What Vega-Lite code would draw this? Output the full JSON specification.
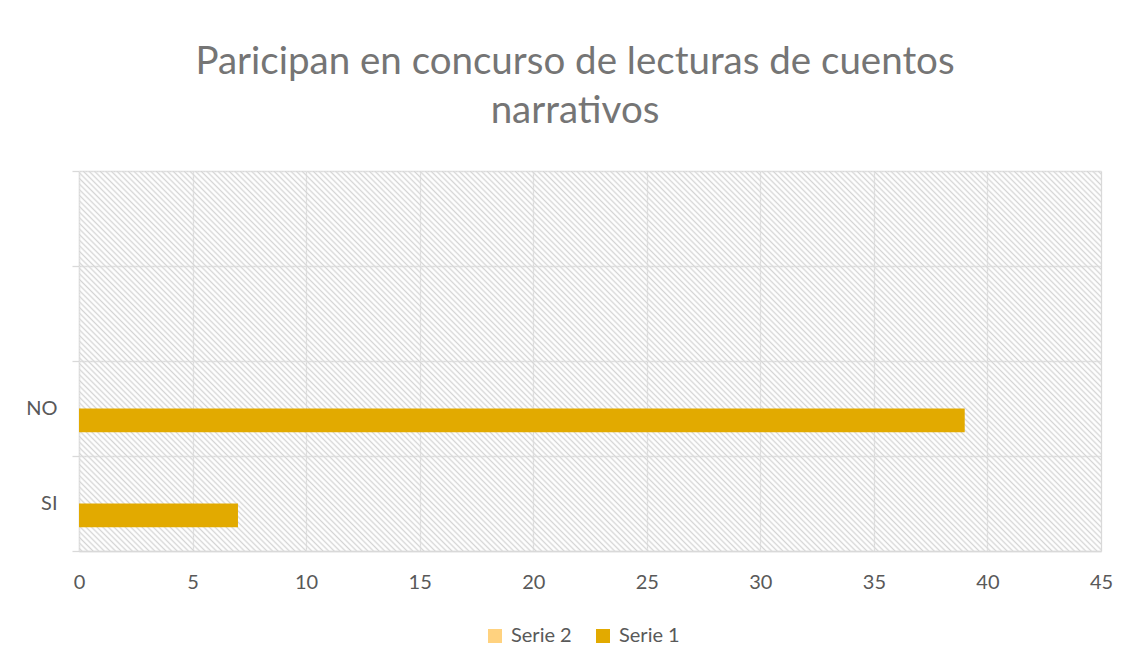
{
"$schema": "https://vega.github.io/schema/vega-lite/v6.json",
"width": 1022,
"height": 380,
"autosize": {"type": "none"},
"padding": {"left": 79, "top": 171, "right": 31, "bottom": 116},
"background": "white",
"title": {"text": ["Paricipan en concurso de lecturas de cuentos", "narrativos"], "font": "Lato", "fontSize": 38.5, "fontWeight": "normal", "color": "#757575", "lineHeight": 49, "anchor": "middle", "frame": "group", "offset": 30, "dx": -15},
"config": {"view": {"stroke": null}, "font": "Lato"},
"data": {"values": [
 {"respuesta": "SI", "serie": "Serie 1", "cantidad": 7},
 {"respuesta": "NO", "serie": "Serie 1", "cantidad": 39}
]},
"layer": [
 {
  "data": {"values": [{"desde": 0, "hasta": 45}]},
  "mark": {"type": "rect", "fill": {"gradient": "linear", "x1": 0, "y1": 1, "x2": 1.2052, "y2": 0.5519, "stops": [
{"offset":0.000,"color":"#fff0"},{"offset":0.002,"color":"#d4d4d4"},{"offset":0.004,"color":"#fff0"},{"offset":0.006,"color":"#d4d4d4"},{"offset":0.008,"color":"#fff0"},
{"offset":0.010,"color":"#d4d4d4"},{"offset":0.012,"color":"#fff0"},{"offset":0.014,"color":"#d4d4d4"},{"offset":0.016,"color":"#fff0"},{"offset":0.018,"color":"#d4d4d4"},
{"offset":0.020,"color":"#fff0"},{"offset":0.022,"color":"#d4d4d4"},{"offset":0.024,"color":"#fff0"},{"offset":0.026,"color":"#d4d4d4"},{"offset":0.028,"color":"#fff0"},
{"offset":0.030,"color":"#d4d4d4"},{"offset":0.032,"color":"#fff0"},{"offset":0.034,"color":"#d4d4d4"},{"offset":0.036,"color":"#fff0"},{"offset":0.038,"color":"#d4d4d4"},
{"offset":0.040,"color":"#fff0"},{"offset":0.042,"color":"#d4d4d4"},{"offset":0.044,"color":"#fff0"},{"offset":0.046,"color":"#d4d4d4"},{"offset":0.048,"color":"#fff0"},
{"offset":0.050,"color":"#d4d4d4"},{"offset":0.052,"color":"#fff0"},{"offset":0.054,"color":"#d4d4d4"},{"offset":0.056,"color":"#fff0"},{"offset":0.058,"color":"#d4d4d4"},
{"offset":0.060,"color":"#fff0"},{"offset":0.062,"color":"#d4d4d4"},{"offset":0.064,"color":"#fff0"},{"offset":0.066,"color":"#d4d4d4"},{"offset":0.068,"color":"#fff0"},
{"offset":0.070,"color":"#d4d4d4"},{"offset":0.072,"color":"#fff0"},{"offset":0.074,"color":"#d4d4d4"},{"offset":0.076,"color":"#fff0"},{"offset":0.078,"color":"#d4d4d4"},
{"offset":0.080,"color":"#fff0"},{"offset":0.082,"color":"#d4d4d4"},{"offset":0.084,"color":"#fff0"},{"offset":0.086,"color":"#d4d4d4"},{"offset":0.088,"color":"#fff0"},
{"offset":0.090,"color":"#d4d4d4"},{"offset":0.092,"color":"#fff0"},{"offset":0.094,"color":"#d4d4d4"},{"offset":0.096,"color":"#fff0"},{"offset":0.098,"color":"#d4d4d4"},
{"offset":0.100,"color":"#fff0"},{"offset":0.102,"color":"#d4d4d4"},{"offset":0.104,"color":"#fff0"},{"offset":0.106,"color":"#d4d4d4"},{"offset":0.108,"color":"#fff0"},
{"offset":0.110,"color":"#d4d4d4"},{"offset":0.112,"color":"#fff0"},{"offset":0.114,"color":"#d4d4d4"},{"offset":0.116,"color":"#fff0"},{"offset":0.118,"color":"#d4d4d4"},
{"offset":0.120,"color":"#fff0"},{"offset":0.122,"color":"#d4d4d4"},{"offset":0.124,"color":"#fff0"},{"offset":0.126,"color":"#d4d4d4"},{"offset":0.128,"color":"#fff0"},
{"offset":0.130,"color":"#d4d4d4"},{"offset":0.132,"color":"#fff0"},{"offset":0.134,"color":"#d4d4d4"},{"offset":0.136,"color":"#fff0"},{"offset":0.138,"color":"#d4d4d4"},
{"offset":0.140,"color":"#fff0"},{"offset":0.142,"color":"#d4d4d4"},{"offset":0.144,"color":"#fff0"},{"offset":0.146,"color":"#d4d4d4"},{"offset":0.148,"color":"#fff0"},
{"offset":0.150,"color":"#d4d4d4"},{"offset":0.152,"color":"#fff0"},{"offset":0.154,"color":"#d4d4d4"},{"offset":0.156,"color":"#fff0"},{"offset":0.158,"color":"#d4d4d4"},
{"offset":0.160,"color":"#fff0"},{"offset":0.162,"color":"#d4d4d4"},{"offset":0.164,"color":"#fff0"},{"offset":0.166,"color":"#d4d4d4"},{"offset":0.168,"color":"#fff0"},
{"offset":0.170,"color":"#d4d4d4"},{"offset":0.172,"color":"#fff0"},{"offset":0.174,"color":"#d4d4d4"},{"offset":0.176,"color":"#fff0"},{"offset":0.178,"color":"#d4d4d4"},
{"offset":0.180,"color":"#fff0"},{"offset":0.182,"color":"#d4d4d4"},{"offset":0.184,"color":"#fff0"},{"offset":0.186,"color":"#d4d4d4"},{"offset":0.188,"color":"#fff0"},
{"offset":0.190,"color":"#d4d4d4"},{"offset":0.192,"color":"#fff0"},{"offset":0.194,"color":"#d4d4d4"},{"offset":0.196,"color":"#fff0"},{"offset":0.198,"color":"#d4d4d4"},
{"offset":0.200,"color":"#fff0"},{"offset":0.202,"color":"#d4d4d4"},{"offset":0.204,"color":"#fff0"},{"offset":0.206,"color":"#d4d4d4"},{"offset":0.208,"color":"#fff0"},
{"offset":0.210,"color":"#d4d4d4"},{"offset":0.212,"color":"#fff0"},{"offset":0.214,"color":"#d4d4d4"},{"offset":0.216,"color":"#fff0"},{"offset":0.218,"color":"#d4d4d4"},
{"offset":0.220,"color":"#fff0"},{"offset":0.222,"color":"#d4d4d4"},{"offset":0.224,"color":"#fff0"},{"offset":0.226,"color":"#d4d4d4"},{"offset":0.228,"color":"#fff0"},
{"offset":0.230,"color":"#d4d4d4"},{"offset":0.232,"color":"#fff0"},{"offset":0.234,"color":"#d4d4d4"},{"offset":0.236,"color":"#fff0"},{"offset":0.238,"color":"#d4d4d4"},
{"offset":0.240,"color":"#fff0"},{"offset":0.242,"color":"#d4d4d4"},{"offset":0.244,"color":"#fff0"},{"offset":0.246,"color":"#d4d4d4"},{"offset":0.248,"color":"#fff0"},
{"offset":0.250,"color":"#d4d4d4"},{"offset":0.252,"color":"#fff0"},{"offset":0.254,"color":"#d4d4d4"},{"offset":0.256,"color":"#fff0"},{"offset":0.258,"color":"#d4d4d4"},
{"offset":0.260,"color":"#fff0"},{"offset":0.262,"color":"#d4d4d4"},{"offset":0.264,"color":"#fff0"},{"offset":0.266,"color":"#d4d4d4"},{"offset":0.268,"color":"#fff0"},
{"offset":0.270,"color":"#d4d4d4"},{"offset":0.272,"color":"#fff0"},{"offset":0.274,"color":"#d4d4d4"},{"offset":0.276,"color":"#fff0"},{"offset":0.278,"color":"#d4d4d4"},
{"offset":0.280,"color":"#fff0"},{"offset":0.282,"color":"#d4d4d4"},{"offset":0.284,"color":"#fff0"},{"offset":0.286,"color":"#d4d4d4"},{"offset":0.288,"color":"#fff0"},
{"offset":0.290,"color":"#d4d4d4"},{"offset":0.292,"color":"#fff0"},{"offset":0.294,"color":"#d4d4d4"},{"offset":0.296,"color":"#fff0"},{"offset":0.298,"color":"#d4d4d4"},
{"offset":0.300,"color":"#fff0"},{"offset":0.302,"color":"#d4d4d4"},{"offset":0.304,"color":"#fff0"},{"offset":0.306,"color":"#d4d4d4"},{"offset":0.308,"color":"#fff0"},
{"offset":0.310,"color":"#d4d4d4"},{"offset":0.312,"color":"#fff0"},{"offset":0.314,"color":"#d4d4d4"},{"offset":0.316,"color":"#fff0"},{"offset":0.318,"color":"#d4d4d4"},
{"offset":0.320,"color":"#fff0"},{"offset":0.322,"color":"#d4d4d4"},{"offset":0.324,"color":"#fff0"},{"offset":0.326,"color":"#d4d4d4"},{"offset":0.328,"color":"#fff0"},
{"offset":0.330,"color":"#d4d4d4"},{"offset":0.332,"color":"#fff0"},{"offset":0.334,"color":"#d4d4d4"},{"offset":0.336,"color":"#fff0"},{"offset":0.338,"color":"#d4d4d4"},
{"offset":0.340,"color":"#fff0"},{"offset":0.342,"color":"#d4d4d4"},{"offset":0.344,"color":"#fff0"},{"offset":0.346,"color":"#d4d4d4"},{"offset":0.348,"color":"#fff0"},
{"offset":0.350,"color":"#d4d4d4"},{"offset":0.352,"color":"#fff0"},{"offset":0.354,"color":"#d4d4d4"},{"offset":0.356,"color":"#fff0"},{"offset":0.358,"color":"#d4d4d4"},
{"offset":0.360,"color":"#fff0"},{"offset":0.362,"color":"#d4d4d4"},{"offset":0.364,"color":"#fff0"},{"offset":0.366,"color":"#d4d4d4"},{"offset":0.368,"color":"#fff0"},
{"offset":0.370,"color":"#d4d4d4"},{"offset":0.372,"color":"#fff0"},{"offset":0.374,"color":"#d4d4d4"},{"offset":0.376,"color":"#fff0"},{"offset":0.378,"color":"#d4d4d4"},
{"offset":0.380,"color":"#fff0"},{"offset":0.382,"color":"#d4d4d4"},{"offset":0.384,"color":"#fff0"},{"offset":0.386,"color":"#d4d4d4"},{"offset":0.388,"color":"#fff0"},
{"offset":0.390,"color":"#d4d4d4"},{"offset":0.392,"color":"#fff0"},{"offset":0.394,"color":"#d4d4d4"},{"offset":0.396,"color":"#fff0"},{"offset":0.398,"color":"#d4d4d4"},
{"offset":0.400,"color":"#fff0"},{"offset":0.402,"color":"#d4d4d4"},{"offset":0.404,"color":"#fff0"},{"offset":0.406,"color":"#d4d4d4"},{"offset":0.408,"color":"#fff0"},
{"offset":0.410,"color":"#d4d4d4"},{"offset":0.412,"color":"#fff0"},{"offset":0.414,"color":"#d4d4d4"},{"offset":0.416,"color":"#fff0"},{"offset":0.418,"color":"#d4d4d4"},
{"offset":0.420,"color":"#fff0"},{"offset":0.422,"color":"#d4d4d4"},{"offset":0.424,"color":"#fff0"},{"offset":0.426,"color":"#d4d4d4"},{"offset":0.428,"color":"#fff0"},
{"offset":0.430,"color":"#d4d4d4"},{"offset":0.432,"color":"#fff0"},{"offset":0.434,"color":"#d4d4d4"},{"offset":0.436,"color":"#fff0"},{"offset":0.438,"color":"#d4d4d4"},
{"offset":0.440,"color":"#fff0"},{"offset":0.442,"color":"#d4d4d4"},{"offset":0.444,"color":"#fff0"},{"offset":0.446,"color":"#d4d4d4"},{"offset":0.448,"color":"#fff0"},
{"offset":0.450,"color":"#d4d4d4"},{"offset":0.452,"color":"#fff0"},{"offset":0.454,"color":"#d4d4d4"},{"offset":0.456,"color":"#fff0"},{"offset":0.458,"color":"#d4d4d4"},
{"offset":0.460,"color":"#fff0"},{"offset":0.462,"color":"#d4d4d4"},{"offset":0.464,"color":"#fff0"},{"offset":0.466,"color":"#d4d4d4"},{"offset":0.468,"color":"#fff0"},
{"offset":0.470,"color":"#d4d4d4"},{"offset":0.472,"color":"#fff0"},{"offset":0.474,"color":"#d4d4d4"},{"offset":0.476,"color":"#fff0"},{"offset":0.478,"color":"#d4d4d4"},
{"offset":0.480,"color":"#fff0"},{"offset":0.482,"color":"#d4d4d4"},{"offset":0.484,"color":"#fff0"},{"offset":0.486,"color":"#d4d4d4"},{"offset":0.488,"color":"#fff0"},
{"offset":0.490,"color":"#d4d4d4"},{"offset":0.492,"color":"#fff0"},{"offset":0.494,"color":"#d4d4d4"},{"offset":0.496,"color":"#fff0"},{"offset":0.498,"color":"#d4d4d4"},
{"offset":0.500,"color":"#fff0"},{"offset":0.502,"color":"#d4d4d4"},{"offset":0.504,"color":"#fff0"},{"offset":0.506,"color":"#d4d4d4"},{"offset":0.508,"color":"#fff0"},
{"offset":0.510,"color":"#d4d4d4"},{"offset":0.512,"color":"#fff0"},{"offset":0.514,"color":"#d4d4d4"},{"offset":0.516,"color":"#fff0"},{"offset":0.518,"color":"#d4d4d4"},
{"offset":0.520,"color":"#fff0"},{"offset":0.522,"color":"#d4d4d4"},{"offset":0.524,"color":"#fff0"},{"offset":0.526,"color":"#d4d4d4"},{"offset":0.528,"color":"#fff0"},
{"offset":0.530,"color":"#d4d4d4"},{"offset":0.532,"color":"#fff0"},{"offset":0.534,"color":"#d4d4d4"},{"offset":0.536,"color":"#fff0"},{"offset":0.538,"color":"#d4d4d4"},
{"offset":0.540,"color":"#fff0"},{"offset":0.542,"color":"#d4d4d4"},{"offset":0.544,"color":"#fff0"},{"offset":0.546,"color":"#d4d4d4"},{"offset":0.548,"color":"#fff0"},
{"offset":0.550,"color":"#d4d4d4"},{"offset":0.552,"color":"#fff0"},{"offset":0.554,"color":"#d4d4d4"},{"offset":0.556,"color":"#fff0"},{"offset":0.558,"color":"#d4d4d4"},
{"offset":0.560,"color":"#fff0"},{"offset":0.562,"color":"#d4d4d4"},{"offset":0.564,"color":"#fff0"},{"offset":0.566,"color":"#d4d4d4"},{"offset":0.568,"color":"#fff0"},
{"offset":0.570,"color":"#d4d4d4"},{"offset":0.572,"color":"#fff0"},{"offset":0.574,"color":"#d4d4d4"},{"offset":0.576,"color":"#fff0"},{"offset":0.578,"color":"#d4d4d4"},
{"offset":0.580,"color":"#fff0"},{"offset":0.582,"color":"#d4d4d4"},{"offset":0.584,"color":"#fff0"},{"offset":0.586,"color":"#d4d4d4"},{"offset":0.588,"color":"#fff0"},
{"offset":0.590,"color":"#d4d4d4"},{"offset":0.592,"color":"#fff0"},{"offset":0.594,"color":"#d4d4d4"},{"offset":0.596,"color":"#fff0"},{"offset":0.598,"color":"#d4d4d4"},
{"offset":0.600,"color":"#fff0"},{"offset":0.602,"color":"#d4d4d4"},{"offset":0.604,"color":"#fff0"},{"offset":0.606,"color":"#d4d4d4"},{"offset":0.608,"color":"#fff0"},
{"offset":0.610,"color":"#d4d4d4"},{"offset":0.612,"color":"#fff0"},{"offset":0.614,"color":"#d4d4d4"},{"offset":0.616,"color":"#fff0"},{"offset":0.618,"color":"#d4d4d4"},
{"offset":0.620,"color":"#fff0"},{"offset":0.622,"color":"#d4d4d4"},{"offset":0.624,"color":"#fff0"},{"offset":0.626,"color":"#d4d4d4"},{"offset":0.628,"color":"#fff0"},
{"offset":0.630,"color":"#d4d4d4"},{"offset":0.632,"color":"#fff0"},{"offset":0.634,"color":"#d4d4d4"},{"offset":0.636,"color":"#fff0"},{"offset":0.638,"color":"#d4d4d4"},
{"offset":0.640,"color":"#fff0"},{"offset":0.642,"color":"#d4d4d4"},{"offset":0.644,"color":"#fff0"},{"offset":0.646,"color":"#d4d4d4"},{"offset":0.648,"color":"#fff0"},
{"offset":0.650,"color":"#d4d4d4"},{"offset":0.652,"color":"#fff0"},{"offset":0.654,"color":"#d4d4d4"},{"offset":0.656,"color":"#fff0"},{"offset":0.658,"color":"#d4d4d4"},
{"offset":0.660,"color":"#fff0"},{"offset":0.662,"color":"#d4d4d4"},{"offset":0.664,"color":"#fff0"},{"offset":0.666,"color":"#d4d4d4"},{"offset":0.668,"color":"#fff0"},
{"offset":0.670,"color":"#d4d4d4"},{"offset":0.672,"color":"#fff0"},{"offset":0.674,"color":"#d4d4d4"},{"offset":0.676,"color":"#fff0"},{"offset":0.678,"color":"#d4d4d4"},
{"offset":0.680,"color":"#fff0"},{"offset":0.682,"color":"#d4d4d4"},{"offset":0.684,"color":"#fff0"},{"offset":0.686,"color":"#d4d4d4"},{"offset":0.688,"color":"#fff0"},
{"offset":0.690,"color":"#d4d4d4"},{"offset":0.692,"color":"#fff0"},{"offset":0.694,"color":"#d4d4d4"},{"offset":0.696,"color":"#fff0"},{"offset":0.698,"color":"#d4d4d4"},
{"offset":0.700,"color":"#fff0"},{"offset":0.702,"color":"#d4d4d4"},{"offset":0.704,"color":"#fff0"},{"offset":0.706,"color":"#d4d4d4"},{"offset":0.708,"color":"#fff0"},
{"offset":0.710,"color":"#d4d4d4"},{"offset":0.712,"color":"#fff0"},{"offset":0.714,"color":"#d4d4d4"},{"offset":0.716,"color":"#fff0"},{"offset":0.718,"color":"#d4d4d4"},
{"offset":0.720,"color":"#fff0"},{"offset":0.722,"color":"#d4d4d4"},{"offset":0.724,"color":"#fff0"},{"offset":0.726,"color":"#d4d4d4"},{"offset":0.728,"color":"#fff0"},
{"offset":0.730,"color":"#d4d4d4"},{"offset":0.732,"color":"#fff0"},{"offset":0.734,"color":"#d4d4d4"},{"offset":0.736,"color":"#fff0"},{"offset":0.738,"color":"#d4d4d4"},
{"offset":0.740,"color":"#fff0"},{"offset":0.742,"color":"#d4d4d4"},{"offset":0.744,"color":"#fff0"},{"offset":0.746,"color":"#d4d4d4"},{"offset":0.748,"color":"#fff0"},
{"offset":0.750,"color":"#d4d4d4"},{"offset":0.752,"color":"#fff0"},{"offset":0.754,"color":"#d4d4d4"},{"offset":0.756,"color":"#fff0"},{"offset":0.758,"color":"#d4d4d4"},
{"offset":0.760,"color":"#fff0"},{"offset":0.762,"color":"#d4d4d4"},{"offset":0.764,"color":"#fff0"},{"offset":0.766,"color":"#d4d4d4"},{"offset":0.768,"color":"#fff0"},
{"offset":0.770,"color":"#d4d4d4"},{"offset":0.772,"color":"#fff0"},{"offset":0.774,"color":"#d4d4d4"},{"offset":0.776,"color":"#fff0"},{"offset":0.778,"color":"#d4d4d4"},
{"offset":0.780,"color":"#fff0"},{"offset":0.782,"color":"#d4d4d4"},{"offset":0.784,"color":"#fff0"},{"offset":0.786,"color":"#d4d4d4"},{"offset":0.788,"color":"#fff0"},
{"offset":0.790,"color":"#d4d4d4"},{"offset":0.792,"color":"#fff0"},{"offset":0.794,"color":"#d4d4d4"},{"offset":0.796,"color":"#fff0"},{"offset":0.798,"color":"#d4d4d4"},
{"offset":0.800,"color":"#fff0"},{"offset":0.802,"color":"#d4d4d4"},{"offset":0.804,"color":"#fff0"},{"offset":0.806,"color":"#d4d4d4"},{"offset":0.808,"color":"#fff0"},
{"offset":0.810,"color":"#d4d4d4"},{"offset":0.812,"color":"#fff0"},{"offset":0.814,"color":"#d4d4d4"},{"offset":0.816,"color":"#fff0"},{"offset":0.818,"color":"#d4d4d4"},
{"offset":0.820,"color":"#fff0"},{"offset":0.822,"color":"#d4d4d4"},{"offset":0.824,"color":"#fff0"},{"offset":0.826,"color":"#d4d4d4"},{"offset":0.828,"color":"#fff0"},
{"offset":0.830,"color":"#d4d4d4"},{"offset":0.832,"color":"#fff0"},{"offset":0.834,"color":"#d4d4d4"},{"offset":0.836,"color":"#fff0"},{"offset":0.838,"color":"#d4d4d4"},
{"offset":0.840,"color":"#fff0"},{"offset":0.842,"color":"#d4d4d4"},{"offset":0.844,"color":"#fff0"},{"offset":0.846,"color":"#d4d4d4"},{"offset":0.848,"color":"#fff0"},
{"offset":0.850,"color":"#d4d4d4"},{"offset":0.852,"color":"#fff0"},{"offset":0.854,"color":"#d4d4d4"},{"offset":0.856,"color":"#fff0"},{"offset":0.858,"color":"#d4d4d4"},
{"offset":0.860,"color":"#fff0"},{"offset":0.862,"color":"#d4d4d4"},{"offset":0.864,"color":"#fff0"},{"offset":0.866,"color":"#d4d4d4"},{"offset":0.868,"color":"#fff0"},
{"offset":0.870,"color":"#d4d4d4"},{"offset":0.872,"color":"#fff0"},{"offset":0.874,"color":"#d4d4d4"},{"offset":0.876,"color":"#fff0"},{"offset":0.878,"color":"#d4d4d4"},
{"offset":0.880,"color":"#fff0"},{"offset":0.882,"color":"#d4d4d4"},{"offset":0.884,"color":"#fff0"},{"offset":0.886,"color":"#d4d4d4"},{"offset":0.888,"color":"#fff0"},
{"offset":0.890,"color":"#d4d4d4"},{"offset":0.892,"color":"#fff0"},{"offset":0.894,"color":"#d4d4d4"},{"offset":0.896,"color":"#fff0"},{"offset":0.898,"color":"#d4d4d4"},
{"offset":0.900,"color":"#fff0"},{"offset":0.902,"color":"#d4d4d4"},{"offset":0.904,"color":"#fff0"},{"offset":0.906,"color":"#d4d4d4"},{"offset":0.908,"color":"#fff0"},
{"offset":0.910,"color":"#d4d4d4"},{"offset":0.912,"color":"#fff0"},{"offset":0.914,"color":"#d4d4d4"},{"offset":0.916,"color":"#fff0"},{"offset":0.918,"color":"#d4d4d4"},
{"offset":0.920,"color":"#fff0"},{"offset":0.922,"color":"#d4d4d4"},{"offset":0.924,"color":"#fff0"},{"offset":0.926,"color":"#d4d4d4"},{"offset":0.928,"color":"#fff0"},
{"offset":0.930,"color":"#d4d4d4"},{"offset":0.932,"color":"#fff0"},{"offset":0.934,"color":"#d4d4d4"},{"offset":0.936,"color":"#fff0"},{"offset":0.938,"color":"#d4d4d4"},
{"offset":0.940,"color":"#fff0"},{"offset":0.942,"color":"#d4d4d4"},{"offset":0.944,"color":"#fff0"},{"offset":0.946,"color":"#d4d4d4"},{"offset":0.948,"color":"#fff0"},
{"offset":0.950,"color":"#d4d4d4"},{"offset":0.952,"color":"#fff0"},{"offset":0.954,"color":"#d4d4d4"},{"offset":0.956,"color":"#fff0"},{"offset":0.958,"color":"#d4d4d4"},
{"offset":0.960,"color":"#fff0"},{"offset":0.962,"color":"#d4d4d4"},{"offset":0.964,"color":"#fff0"},{"offset":0.966,"color":"#d4d4d4"},{"offset":0.968,"color":"#fff0"},
{"offset":0.970,"color":"#d4d4d4"},{"offset":0.972,"color":"#fff0"},{"offset":0.974,"color":"#d4d4d4"},{"offset":0.976,"color":"#fff0"},{"offset":0.978,"color":"#d4d4d4"},
{"offset":0.980,"color":"#fff0"},{"offset":0.982,"color":"#d4d4d4"},{"offset":0.984,"color":"#fff0"},{"offset":0.986,"color":"#d4d4d4"},{"offset":0.988,"color":"#fff0"},
{"offset":0.990,"color":"#d4d4d4"},{"offset":0.992,"color":"#fff0"},{"offset":0.994,"color":"#d4d4d4"},{"offset":0.996,"color":"#fff0"},{"offset":0.998,"color":"#d4d4d4"},
{"offset":1.000,"color":"#fff0"}
  ]}},
  "encoding": {
   "x": {"field": "desde", "type": "quantitative", "scale": {"domain": [0, 45], "nice": false}, "axis": {"title": null, "values": [0, 5, 10, 15, 20, 25, 30, 35, 40, 45], "tickSize": 0, "labelPadding": 21, "grid": true, "gridColor": "#d9d9d9", "gridWidth": 1.3, "domainColor": "#d9d9d9", "domainWidth": 1.3, "labelFontSize": 20, "labelFont": "Lato", "labelColor": "#595959", "labelFlush": false, "labelOverlap": false}},
   "x2": {"field": "hasta"}
  }
 },
 {
  "mark": {"type": "bar"},
  "encoding": {
   "y": {"field": "respuesta", "type": "nominal", "scale": {"domain": ["v2", "v1", "NO", "SI"], "paddingInner": 0, "paddingOuter": 0}, "axis": {"title": null, "labelExpr": "datum.value == 'NO' || datum.value == 'SI' ? datum.value : ''", "tickBand": "extent", "tickSize": 7, "labelPadding": 15, "grid": true, "gridColor": "#d9d9d9", "gridWidth": 1.3, "tickColor": "#d9d9d9", "tickWidth": 1.3, "domainColor": "#d9d9d9", "domainWidth": 1.3, "labelFontSize": 20, "labelFont": "Lato", "labelColor": "#595959"}},
   "yOffset": {"field": "serie", "scale": {"domain": ["Serie 2", "Serie 1"], "paddingInner": 0, "paddingOuter": 1.26}},
   "x": {"field": "cantidad", "type": "quantitative", "scale": {"domain": [0, 45], "nice": false}, "axis": {"title": null, "values": [0, 5, 10, 15, 20, 25, 30, 35, 40, 45], "tickSize": 0, "labelPadding": 21, "grid": true, "gridColor": "#d9d9d9", "gridWidth": 1.3, "domainColor": "#d9d9d9", "domainWidth": 1.3, "labelFontSize": 20, "labelFont": "Lato", "labelColor": "#595959", "labelFlush": false, "labelOverlap": false}},
   "color": {"field": "serie", "type": "nominal", "scale": {"domain": ["Serie 2", "Serie 1"], "range": ["#FFD27F", "#E2AA00"]}, "legend": {"title": null, "orient": "none", "legendX": 406, "legendY": 455, "padding": 0, "direction": "horizontal", "symbolType": "square", "symbolSize": 196, "symbolStrokeWidth": 0, "labelFontSize": 20, "labelFont": "Lato", "labelColor": "#595959", "columnPadding": 21, "labelOffset": 6}}
  }
 }
]
}
